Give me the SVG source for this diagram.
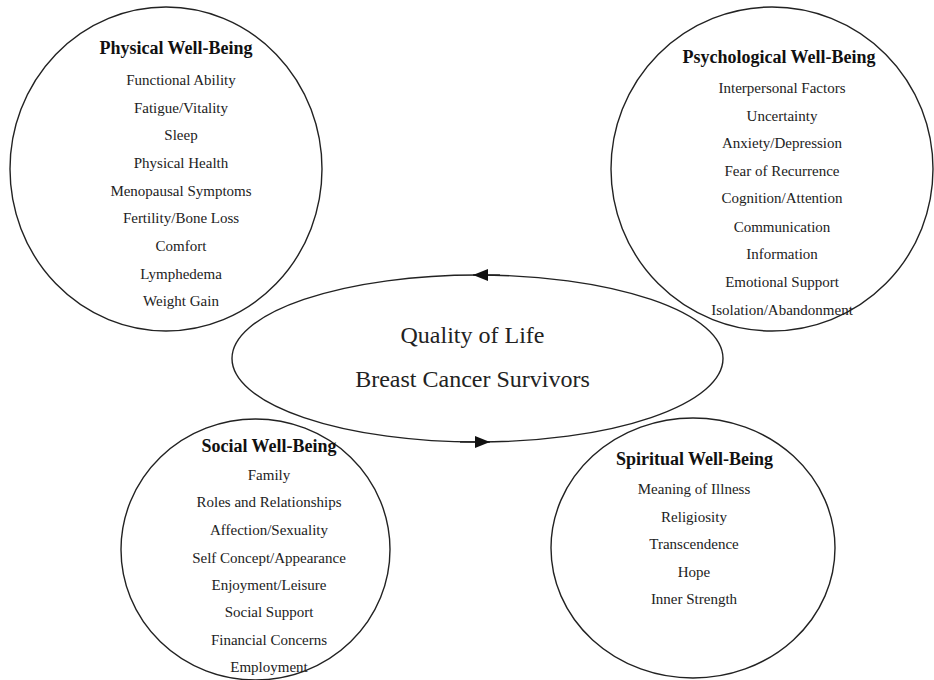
<svg xmlns="http://www.w3.org/2000/svg" width="934" height="680" viewBox="0 0 934 680">
<defs>
<marker id="arr" viewBox="0 0 15 12" refX="15" refY="6" markerWidth="15" markerHeight="12" markerUnits="userSpaceOnUse" orient="auto">
<path d="M0,0 L15,6 L0,12 z" fill="#111"/>
</marker>
<style>
.shape{fill:none;stroke:#222;stroke-width:1.4}
.title{font-family:"Liberation Serif","Times New Roman",serif;font-weight:bold;font-size:18px;fill:#111;text-anchor:middle}
.item{font-family:"Liberation Serif","Times New Roman",serif;font-size:15px;fill:#222;text-anchor:middle}
.center{font-family:"Liberation Serif","Times New Roman",serif;font-size:24px;fill:#222;text-anchor:middle}
.conn{fill:none;stroke:#222;stroke-width:1.4}
</style>
</defs>
<rect width="934" height="680" fill="#fff"/>

<g id="physical">
<ellipse class="shape" cx="166" cy="169" rx="156" ry="162"/>
<text class="title" x="176" y="54">Physical Well-Being</text>
<text class="item" x="181" y="85">Functional Ability</text>
<text class="item" x="181" y="113">Fatigue/Vitality</text>
<text class="item" x="181" y="140">Sleep</text>
<text class="item" x="181" y="168">Physical Health</text>
<text class="item" x="181" y="196">Menopausal Symptoms</text>
<text class="item" x="181" y="223">Fertility/Bone Loss</text>
<text class="item" x="181" y="251">Comfort</text>
<text class="item" x="181" y="279">Lymphedema</text>
<text class="item" x="181" y="306">Weight Gain</text>
</g>

<g id="psychological">
<ellipse class="shape" cx="772" cy="169" rx="161" ry="162"/>
<text class="title" x="779" y="63">Psychological Well-Being</text>
<text class="item" x="782" y="93">Interpersonal Factors</text>
<text class="item" x="782" y="121">Uncertainty</text>
<text class="item" x="782" y="148">Anxiety/Depression</text>
<text class="item" x="782" y="176">Fear of Recurrence</text>
<text class="item" x="782" y="203">Cognition/Attention</text>
<text class="item" x="782" y="232">Communication</text>
<text class="item" x="782" y="259">Information</text>
<text class="item" x="782" y="287">Emotional Support</text>
<text class="item" x="782" y="315">Isolation/Abandonment</text>
</g>

<g id="quality">
<ellipse class="shape" cx="477.5" cy="358.5" rx="245.5" ry="83.5"/>
<text class="center" x="472.5" y="343">Quality of Life</text>
<text class="center" x="472.5" y="387">Breast Cancer Survivors</text>
</g>

<g id="social">
<ellipse class="shape" cx="255.5" cy="549.5" rx="134.5" ry="130.5"/>
<text class="title" x="269" y="452">Social Well-Being</text>
<text class="item" x="269" y="480">Family</text>
<text class="item" x="269" y="507">Roles and Relationships</text>
<text class="item" x="269" y="535">Affection/Sexuality</text>
<text class="item" x="269" y="563">Self Concept/Appearance</text>
<text class="item" x="269" y="590">Enjoyment/Leisure</text>
<text class="item" x="269" y="617">Social Support</text>
<text class="item" x="269" y="645">Financial Concerns</text>
<text class="item" x="269" y="672">Employment</text>
</g>

<g id="spiritual">
<ellipse class="shape" cx="693" cy="548" rx="142" ry="130"/>
<text class="title" x="694.5" y="465">Spiritual Well-Being</text>
<text class="item" x="694" y="494">Meaning of Illness</text>
<text class="item" x="694" y="522">Religiosity</text>
<text class="item" x="694" y="549">Transcendence</text>
<text class="item" x="694" y="577">Hope</text>
<text class="item" x="694" y="604">Inner Strength</text>
</g>

<g id="connectors">
<path class="conn" d="M500,275 L473,275" marker-end="url(#arr)"/>
<path class="conn" d="M460,442 L490,442" marker-end="url(#arr)"/>
</g>
</svg>
